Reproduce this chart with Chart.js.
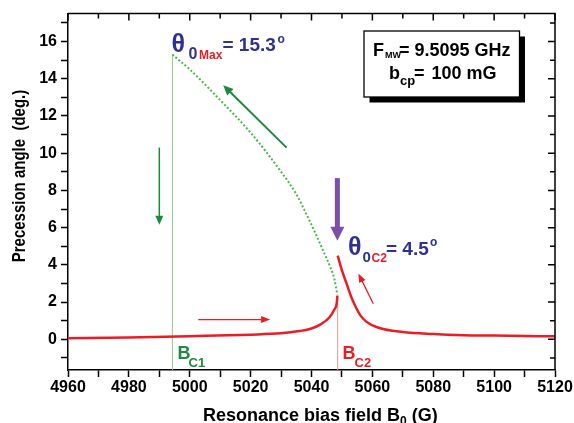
<!DOCTYPE html>
<html>
<head>
<meta charset="utf-8">
<script src="https://cdn.jsdelivr.net/npm/chart.js@4.4.0/dist/chart.umd.min.js"></script>
<style>
  html, body { margin: 0; padding: 0; background: #fff; }
  canvas { display: block; }
</style>
</head>
<body>
<canvas id="myChart" width="574" height="423"></canvas>
<script>
// field values (G) and precession angles (deg.)
const redLeftX = [4960, 4980, 5000, 5020, 5030, 5036, 5040, 5043, 5046, 5047.5, 5048.3, 5048.5];
const redLeftY = [0.05, 0.1, 0.17, 0.25, 0.32, 0.44, 0.58, 0.8, 1.2, 1.6, 1.95, 2.35];

const redRightX = [5048.6, 5050, 5051.5, 5053, 5054.5, 5056, 5058, 5062, 5070, 5080, 5090, 5100, 5110, 5120];
const redRightY = [4.5, 3.7, 3.0, 2.3, 1.75, 1.3, 0.95, 0.62, 0.39, 0.28, 0.22, 0.2, 0.18, 0.16];

const greenX = [4994.3, 5000, 5010, 5020, 5030, 5035, 5038.4, 5041, 5044, 5046, 5047.5, 5048.5];
const greenY = [15.3, 14.5, 12.85, 11.1, 9.0, 7.8, 6.7, 5.8, 4.7, 3.95, 3.25, 2.4];

const BC1 = 4994.3;
const BC2 = 5048.6;
const thetaMax = 15.3;
const thetaC2 = 2.35;

const X_MIN = 4960, X_MAX = 5120;
const Y_MIN = -1.65, Y_MAX = 17.5;

const RED = '#ec1c24';
const NAVY = '#2e3192';
const DKGREEN = '#1b8a3e';
const FONT = '"Liberation Sans", Arial, sans-serif';

function pts(xs, ys) {
    return xs.map((x, i) => ({ x: x, y: ys[i] }));
}

function arrow(ctx, x1, y1, x2, y2, color, width, headLen, headW) {
    const dx = x2 - x1, dy = y2 - y1;
    const len = Math.hypot(dx, dy);
    const ux = dx / len, uy = dy / len;
    const bx = x2 - ux * headLen, by = y2 - uy * headLen;
    ctx.strokeStyle = color;
    ctx.fillStyle = color;
    ctx.lineWidth = width;
    ctx.beginPath();
    ctx.moveTo(x1, y1);
    ctx.lineTo(bx + ux, by + uy);
    ctx.stroke();
    ctx.beginPath();
    ctx.moveTo(x2, y2);
    ctx.lineTo(bx - uy * headW / 2, by + ux * headW / 2);
    ctx.lineTo(bx + uy * headW / 2, by - ux * headW / 2);
    ctx.closePath();
    ctx.fill();
}

function txt(ctx, s, x, y, size, color) {
    ctx.font = 'bold ' + size + 'px ' + FONT;
    ctx.fillStyle = color;
    ctx.textAlign = 'left';
    ctx.textBaseline = 'alphabetic';
    ctx.fillText(s, x, y);
}

const overlay = {
    id: 'overlay',
    afterDraw(chart) {
        const ctx = chart.ctx;
        const a = chart.chartArea;
        const xs = chart.scales.x, ys = chart.scales.y;
        const px = v => xs.getPixelForValue(v);
        const py = v => ys.getPixelForValue(v);
        ctx.save();

        // top / right frame with inward ticks
        ctx.strokeStyle = '#000';
        ctx.lineWidth = 1.5;
        ctx.beginPath();
        ctx.moveTo(a.left, a.top);
        ctx.lineTo(a.right, a.top);
        ctx.lineTo(a.right, a.bottom);
        ctx.stroke();
        ctx.beginPath();
        xs.ticks.forEach(t => {
            const X = px(t.value);
            ctx.moveTo(X, a.top);
            ctx.lineTo(X, a.top + (t.value % 20 === 0 ? 7 : 5));
        });
        ys.ticks.forEach(t => {
            const Y = py(t.value);
            ctx.moveTo(a.right, Y);
            ctx.lineTo(a.right - (t.value % 2 === 0 ? 7 : 5), Y);
        });
        ctx.stroke();

        // arrows
        arrow(ctx, px(4990), py(10.3), px(4990), py(6.15), DKGREEN, 1.5, 9, 8);
        arrow(ctx, px(5031.8), py(10.3), px(5011), py(13.65), DKGREEN, 2, 10, 9);
        arrow(ctx, px(5002.8), py(1.06), px(5026.4), py(1.06), RED, 1.3, 9, 7);
        arrow(ctx, px(5060.3), py(1.91), px(5055.4), py(3.54), RED, 1.3, 9, 7);
        arrow(ctx, px(5048.5), py(8.66), px(5048.5), py(5.3), '#7b4fa6', 5, 14, 14);

        // theta labels
        txt(ctx, 'θ', 171.5, 51.5, 25, NAVY);
        txt(ctx, '0', 188.5, 58.5, 16, NAVY);
        txt(ctx, 'Max', 199, 58.5, 12, RED);
        txt(ctx, '= 15.3', 222.5, 50.8, 19, NAVY);
        txt(ctx, 'o', 277.5, 42.5, 12, NAVY);

        txt(ctx, 'θ', 348, 255, 25, NAVY);
        txt(ctx, '0', 362.5, 261.5, 15, NAVY);
        txt(ctx, 'C2', 371.5, 262, 12, RED);
        txt(ctx, '= 4.5', 386, 255, 19, NAVY);
        txt(ctx, 'o', 430, 246, 12, NAVY);

        // critical field labels
        txt(ctx, 'B', 177.5, 358.5, 18, DKGREEN);
        txt(ctx, 'C1', 188.5, 366.5, 13, DKGREEN);
        txt(ctx, 'B', 342.5, 358.5, 18, RED);
        txt(ctx, 'C2', 354.5, 366.5, 13, RED);

        // parameter box with shadow
        ctx.fillStyle = '#000';
        ctx.fillRect(369.5, 36.5, 155.5, 66);
        ctx.fillStyle = '#fff';
        ctx.fillRect(364, 31, 155.5, 66);
        ctx.strokeStyle = '#000';
        ctx.lineWidth = 1.3;
        ctx.strokeRect(364, 31, 155.5, 66);
        txt(ctx, 'F', 373, 56, 18, '#000');
        txt(ctx, 'MW', 385, 57.5, 9, '#000');
        txt(ctx, '= 9.5095 GHz', 399, 56, 18, '#000');
        txt(ctx, 'b', 389, 79.3, 18, '#000');
        txt(ctx, 'cp', 400, 85, 13, '#000');
        txt(ctx, '=', 414, 79.3, 18, '#000');
        txt(ctx, '100 mG', 431.5, 79.3, 18, '#000');

        // axis titles
        txt(ctx, 'Resonance bias field B', 203, 421, 18, '#000');
        let w = ctx.measureText('Resonance bias field B').width;
        txt(ctx, '0', 203 + w, 425, 12, '#000');
        ctx.font = 'bold 12px ' + FONT;
        w += ctx.measureText('0').width;
        txt(ctx, ' (G)', 203 + w, 421, 18, '#000');

        ctx.translate(20, 176);
        ctx.rotate(-Math.PI / 2);
        ctx.scale(1, 1.2);
        ctx.font = 'bold 15px ' + FONT;
        ctx.fillStyle = '#000';
        ctx.textAlign = 'center';
        ctx.textBaseline = 'middle';
        ctx.fillText('Precession angle  (deg.)', 0, 0);

        ctx.restore();
    }
};

const tickFont = { family: FONT, weight: 'bold', size: 16 };

const ctx = document.getElementById('myChart').getContext('2d');
const myChart = new Chart(ctx, {
    type: 'line',
    data: {
        datasets: [
            {
                data: pts(redLeftX, redLeftY),
                borderColor: RED,
                borderWidth: 2.5,
                cubicInterpolationMode: 'monotone'
            },
            {
                data: pts(redRightX, redRightY),
                borderColor: RED,
                borderWidth: 2.5,
                cubicInterpolationMode: 'monotone'
            },
            {
                data: pts(greenX, greenY),
                borderColor: '#4cb848',
                borderWidth: 2,
                borderDash: [2, 2],
                cubicInterpolationMode: 'monotone'
            },
            {
                data: pts([BC1, BC1], [Y_MIN, thetaMax]),
                borderColor: '#86cf86',
                borderWidth: 1
            },
            {
                data: pts([BC2, BC2], [Y_MIN, thetaC2]),
                borderColor: '#f29388',
                borderWidth: 1
            }
        ]
    },
    options: {
        responsive: false,
        animation: false,
        layout: { padding: { top: 10, right: 19, left: 0, bottom: 0 } },
        elements: { point: { radius: 0 } },
        plugins: { legend: { display: false }, tooltip: { enabled: false } },
        scales: {
            x: {
                type: 'linear',
                min: X_MIN,
                max: X_MAX,
                ticks: {
                    stepSize: 10,
                    autoSkip: false,
                    maxRotation: 0,
                    includeBounds: false,
                    color: '#000',
                    font: tickFont,
                    padding: 1,
                    callback: v => (v % 20 === 0 ? v : '')
                },
                grid: { drawOnChartArea: false, tickLength: 7, tickColor: '#000', tickWidth: 1.5 },
                border: { color: '#000', width: 1.5 },
                afterFit: s => { s.height = 53; }
            },
            y: {
                min: Y_MIN,
                max: Y_MAX,
                ticks: {
                    stepSize: 1,
                    autoSkip: false,
                    includeBounds: false,
                    color: '#000',
                    font: tickFont,
                    padding: 4,
                    callback: v => (v % 2 === 0 ? v : '')
                },
                grid: { drawOnChartArea: false, tickLength: 7, tickColor: '#000', tickWidth: 1.5 },
                border: { color: '#000', width: 1.5 },
                afterFit: s => { s.width = 68; }
            }
        }
    },
    plugins: [overlay]
});
</script>
</body>
</html>
